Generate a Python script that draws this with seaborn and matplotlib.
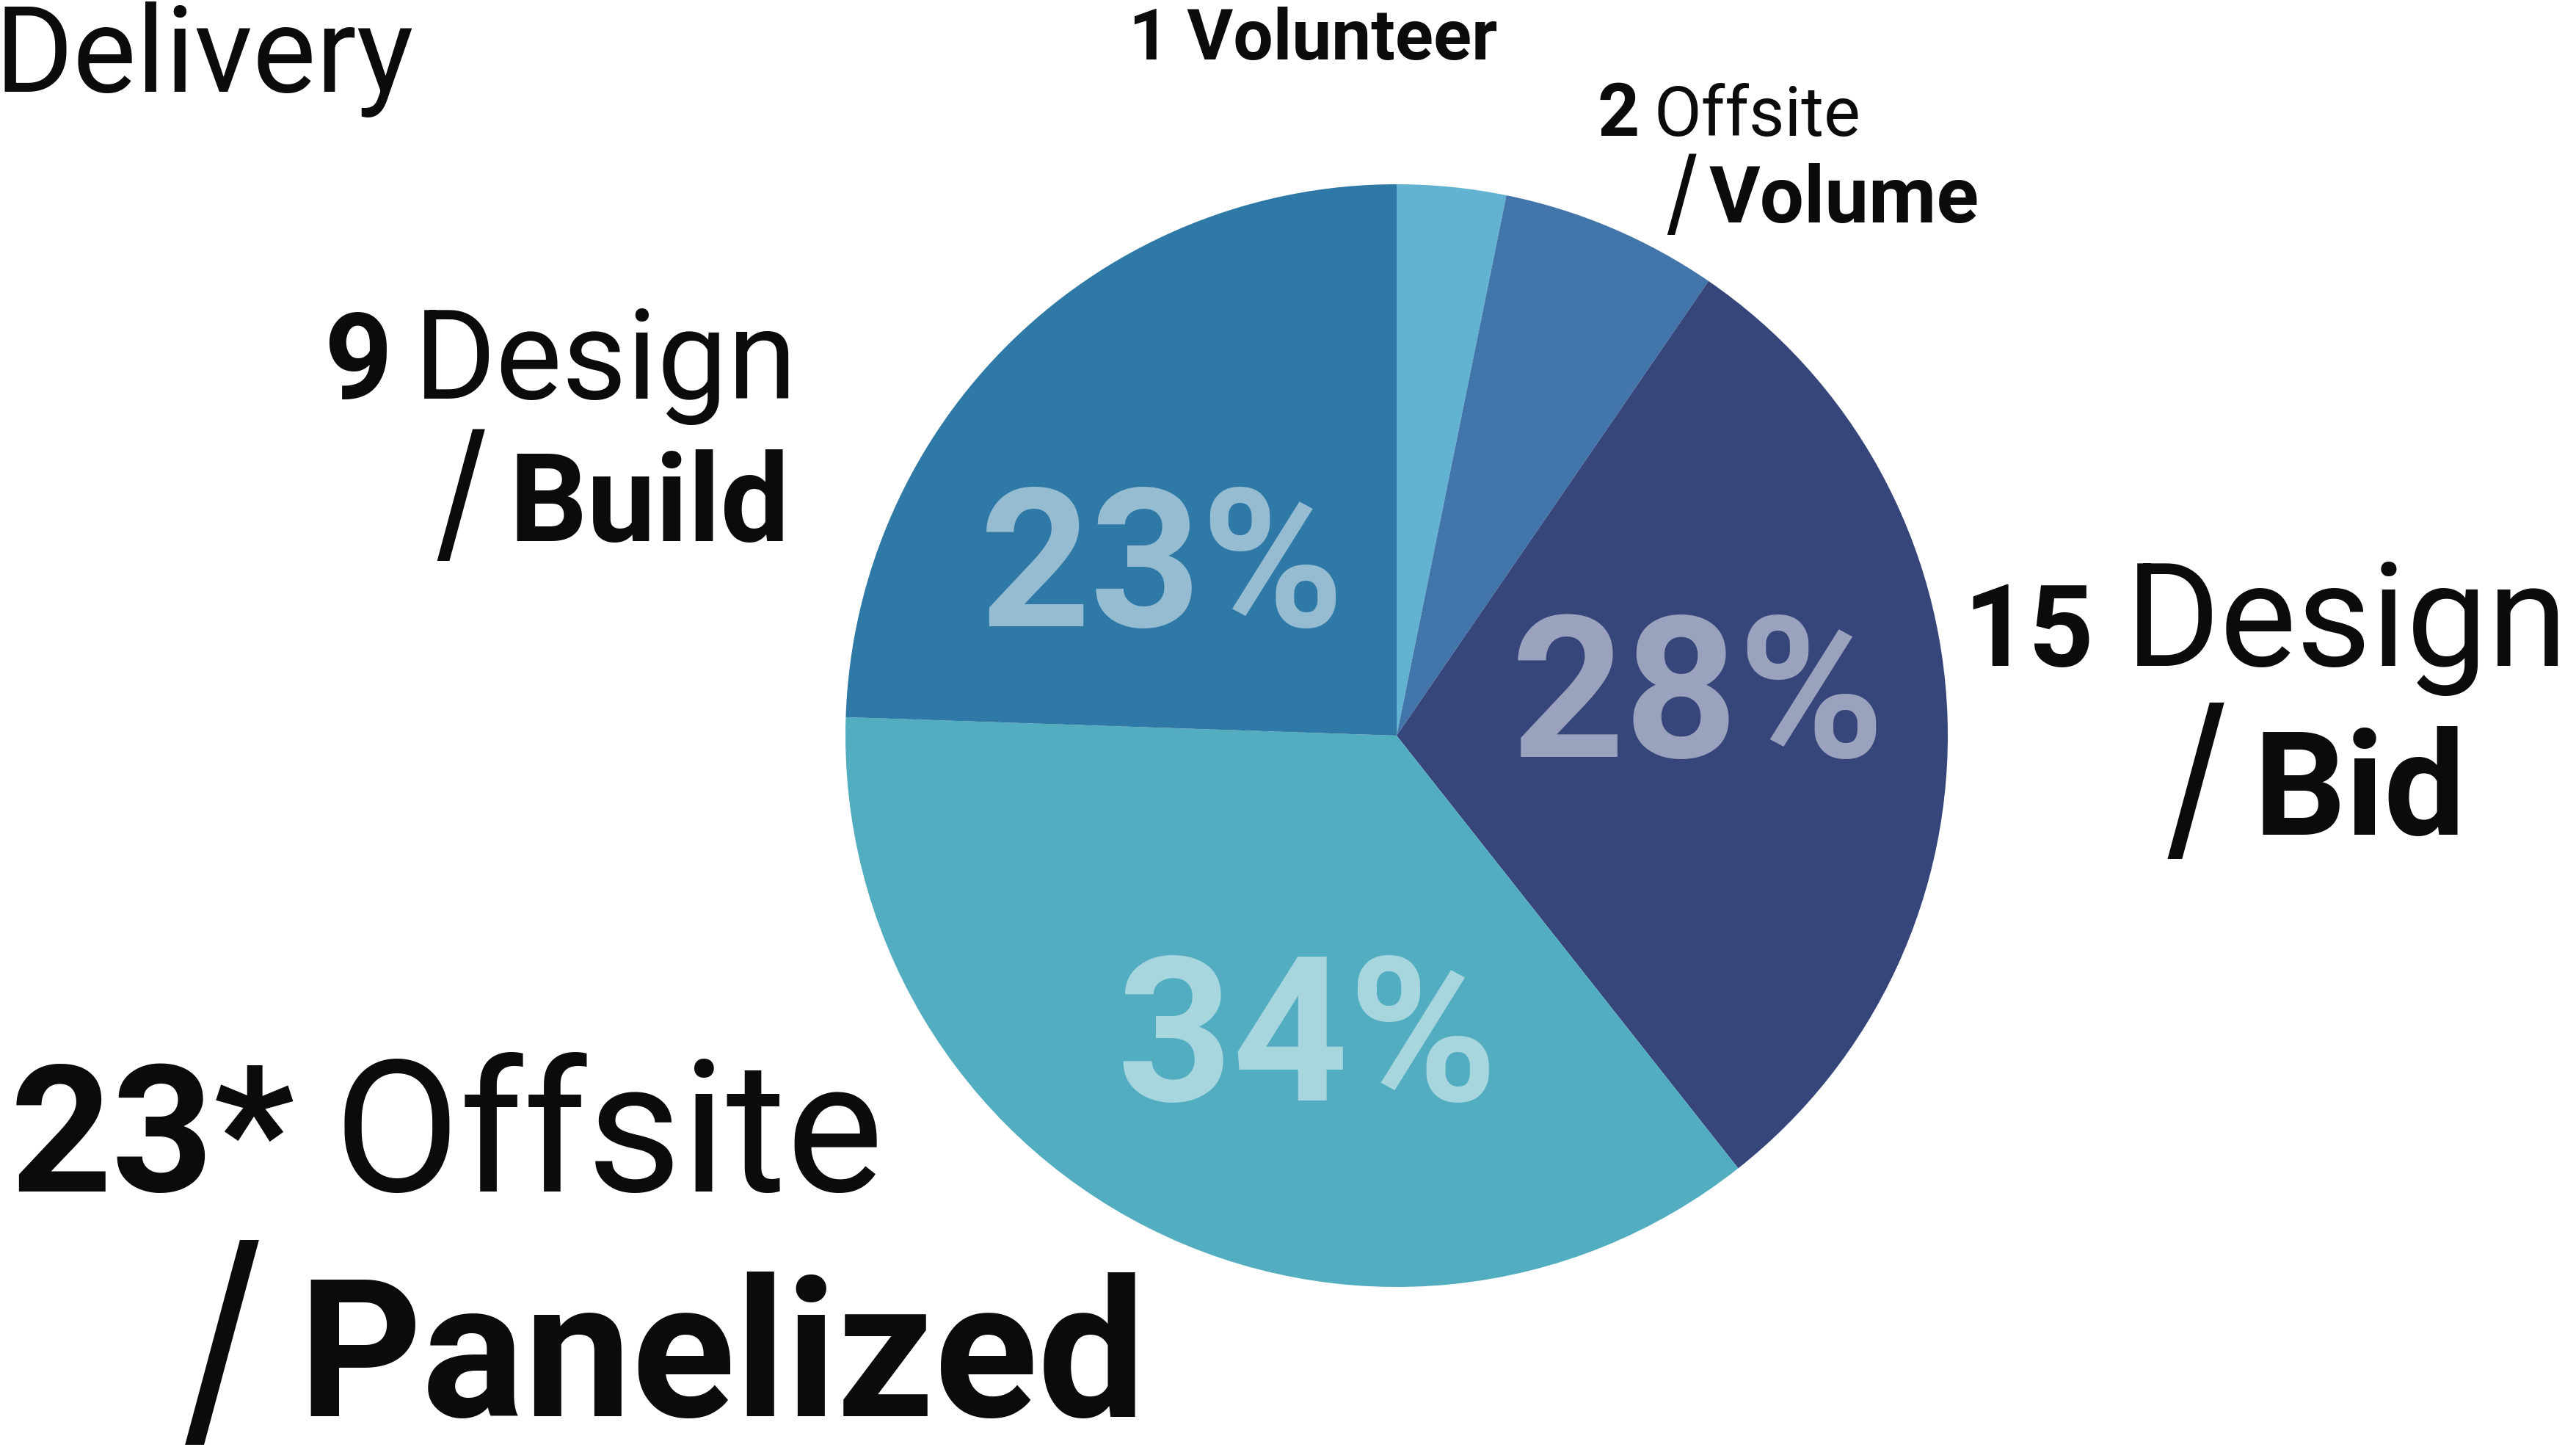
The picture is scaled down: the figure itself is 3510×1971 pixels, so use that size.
import matplotlib
matplotlib.use("Agg")
import matplotlib.pyplot as plt
import seaborn as sns
from matplotlib.textpath import TextPath
from matplotlib.font_manager import FontProperties

W, H = 3510, 1971

# Project delivery methods
title = "Delivery"
segments = ["Volunteer", "Offsite / Volume", "Design / Bid", "Offsite / Panelized", "Design / Build"]
counts = ["1", "2", "15", "23*", "9"]
shares = [3, 6, 28, 34, 23]          # percent of projects
show_share = [False, False, True, True, True]
slice_colors = ["#62b2d1", "#4275a9", "#36467b", "#52adc0", "#2e79a6"]

FAMILY = "Roboto"
SLASH_FAMILY = "Inter"
sns.set_theme(style="white")
plt.rcParams["font.family"] = [FAMILY, "DejaVu Sans"]

fig = plt.figure(figsize=(W / 100, H / 100), dpi=100)
ax = fig.add_axes([0, 0, 1, 1])

palette = sns.color_palette(slice_colors)
wedges, _ = ax.pie(
    shares, colors=palette, startangle=90, counterclock=False,
    radius=751, center=(1903, H - 1002),
    wedgeprops=dict(linewidth=0, antialiased=True),
)
ax.set_xlim(0, W)
ax.set_ylim(0, H)
ax.set_aspect("equal")
ax.axis("off")

INK = "#0b0b0b"


def ink_box(s, weight, family=FAMILY, size=100):
    """Ink extents of a string set at `size` pixels per em (origin on the baseline)."""
    fp = FontProperties(family=family, weight=weight)
    return TextPath((0, 0), s, size=size, prop=fp).get_extents()


def put(s, left, right, base, weight="normal", color=INK, alpha=1.0):
    """Set a string so that its ink runs from `left` to `right` on baseline `base`
    (pixel positions measured from the top-left corner)."""
    e = ink_box(s, weight)
    k = (right - left) / (e.x1 - e.x0)
    px = 100 * k
    ax.text(left - e.x0 * k, H - base, s, fontsize=px * 0.72, fontweight=weight,
            color=color, alpha=alpha, ha="left", va="baseline")


def slash(left, top, bottom):
    """A plain slash whose ink spans `top`..`bottom` with its lower-left at `left`."""
    e = ink_box("/", "normal", family=SLASH_FAMILY)
    k = (bottom - top) / (e.y1 - e.y0)
    px = 100 * k
    base = bottom + e.y0 * k
    ax.text(left - e.x0 * k, H - base, "/", fontsize=px * 0.72, color=INK,
            family=[SLASH_FAMILY, "DejaVu Sans"], ha="left", va="baseline")


# title
put(title, 6, 562, 125)

# label placement: count, first word, slash, second word (left, right, baseline)
label_layout = {
    0: dict(line=(1546, 2039, 81)),
    1: dict(cnt=(2180, 2230, 185), first=(2259, 2532, 185),
            sl=(2271, 210, 320), second=(2329, 2694, 303)),
    2: dict(cnt=(2688, 2847, 907), first=(2912, 3486, 907),
            sl=(2953, 957, 1170), second=(3083, 3349, 1137)),
    3: dict(cnt=(22, 400, 1623), first=(469, 1195, 1623),
            sl=(252, 1690, 1968), second=(423, 1547, 1929)),
    4: dict(cnt=(448, 526, 543), first=(578, 1075, 543),
            sl=(595, 584, 764), second=(704, 1067, 737)),
}

for i, (seg, cnt) in enumerate(zip(segments, counts)):
    L = label_layout[i]
    parts = seg.split(" / ")
    if len(parts) == 1:
        put(f"{cnt} {seg}", *L["line"], weight="bold")
        continue
    first, second = parts
    put(cnt, *L["cnt"], weight="bold")
    put(first, *L["first"])
    slash(*L["sl"])
    put(second, *L["second"], weight="bold")

# percentage labels inside the larger slices
pct_layout = {2: (2068, 2557, 1031), 3: (1530, 2029, 1499), 4: (1344, 1821, 853)}
for i, v in enumerate(shares):
    if show_share[i]:
        put(f"{v}%", *pct_layout[i], weight="bold", color="white", alpha=0.5)

fig.savefig("out.png", dpi=100, facecolor="white")
